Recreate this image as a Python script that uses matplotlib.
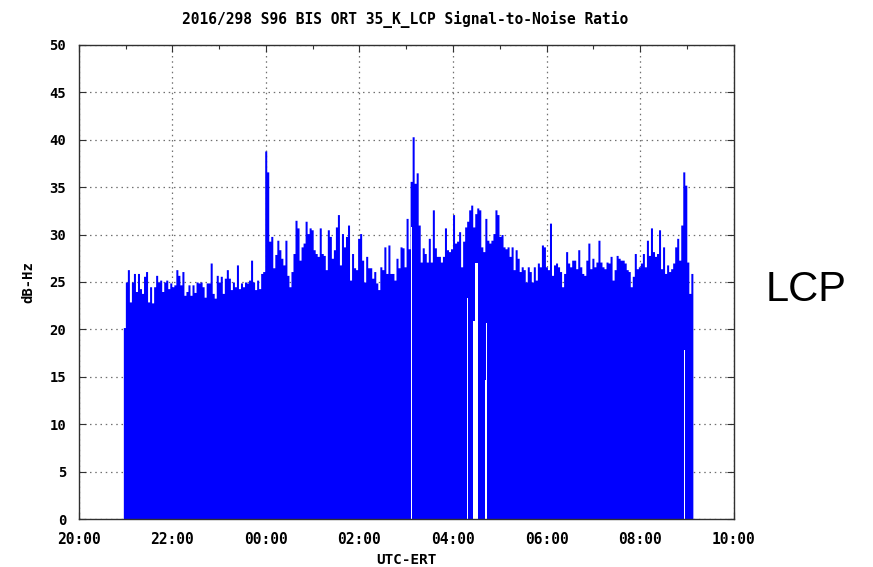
import numpy as np
import matplotlib
matplotlib.use("Agg")
import matplotlib.pyplot as plt
from matplotlib.ticker import MultipleLocator, FixedLocator

# --- data -------------------------------------------------------------
TITLE = "2016/298 S96 BIS ORT 35_K_LCP Signal-to-Noise Ratio"
START_H = 0.953          # hours after 20:00 of the first sample (~20:57)
STEP_MIN = 2.59          # sample spacing in minutes

snr = [
    20.2, 25.0, 26.3, 22.9, 25.0, 25.9, 24.0, 25.9, 24.3, 23.8,
    25.6, 26.1, 22.9, 24.5, 22.8, 24.5, 25.7, 25.0, 25.2, 24.0,
    25.0, 25.2, 24.3, 24.9, 24.5, 24.7, 26.3, 25.7, 24.7, 26.1,
    23.6, 24.0, 24.7, 23.6, 24.7, 23.9, 25.0, 24.9, 25.0, 24.5,
    23.4, 24.9, 24.9, 27.0, 23.8, 23.3, 25.7, 25.0, 25.6, 23.8,
    25.4, 26.3, 25.4, 24.2, 25.0, 24.5, 26.8, 24.3, 24.9, 24.5,
    25.0, 24.9, 25.2, 27.3, 25.0, 24.2, 25.2, 24.3, 25.9, 26.1,
    38.8, 36.6, 29.3, 29.8, 26.5, 27.9, 29.4, 28.4, 27.5, 26.8,
    29.4, 25.7, 24.5, 26.1, 28.0, 31.5, 30.7, 27.3, 28.7, 29.1,
    31.4, 30.1, 30.7, 30.5, 28.4, 28.0, 27.7, 30.7, 28.0, 27.8,
    26.3, 30.5, 29.8, 27.5, 28.4, 30.8, 32.1, 26.8, 30.1, 28.7,
    29.8, 31.0, 25.2, 28.0, 26.5, 26.3, 29.6, 30.1, 27.3, 25.0,
    27.7, 26.5, 26.5, 25.4, 26.1, 24.9, 24.2, 26.6, 26.3, 28.7,
    25.9, 28.9, 25.9, 25.9, 25.2, 27.5, 26.5, 28.7, 28.6, 26.6,
    31.7, 28.5, 35.6, 40.3, 35.4, 36.5, 31.0, 27.1, 28.6, 28.0,
    27.1, 29.6, 27.1, 32.6, 28.6, 27.7, 27.7, 27.1, 27.7, 30.7,
    28.4, 28.2, 28.5, 32.1, 29.1, 29.3, 30.3, 26.6, 29.3, 30.8,
    31.4, 32.6, 33.1, 30.8, 32.2, 32.8, 32.6, 28.7, 28.2, 31.7,
    29.4, 29.1, 29.4, 30.1, 32.6, 32.1, 29.8, 30.0, 28.7, 28.5,
    28.7, 27.7, 28.7, 26.3, 28.4, 27.5, 26.1, 26.6, 26.3, 25.0,
    26.6, 26.1, 25.0, 26.6, 25.2, 27.0, 26.6, 28.9, 28.7, 26.6,
    26.3, 31.2, 25.7, 26.8, 27.0, 26.6, 26.1, 24.5, 25.9, 28.2,
    27.0, 26.6, 27.3, 27.3, 26.4, 28.4, 26.6, 25.9, 25.7, 27.3,
    29.1, 26.4, 27.5, 26.6, 27.1, 29.4, 27.1, 26.6, 26.4, 27.1,
    27.0, 27.7, 25.2, 26.3, 27.8, 27.5, 27.3, 27.3, 27.0, 26.3,
    26.1, 24.5, 25.6, 28.0, 26.4, 26.6, 27.0, 28.0, 26.6, 29.4,
    27.8, 30.7, 28.2, 27.7, 28.0, 30.5, 26.4, 28.7, 25.9, 26.8,
    26.1, 26.4, 27.0, 28.7, 29.6, 27.3, 31.0, 36.6, 35.2, 27.1,
    23.8, 25.9,
]

# dropouts: start/end (hours after 20:00) and level below which no signal
gap_start = [7.106, 8.294, 8.433, 8.474, 8.677, 8.698, 12.930]
gap_end = [7.130, 8.320, 8.474, 8.534, 8.698, 8.720, 12.958]
gap_top = [30.8, 23.3, 20.9, 27.0, 14.7, 20.7, 17.8]

x_ticks = [0, 2, 4, 6, 8, 10, 12, 14]
x_labels = ["20:00", "22:00", "00:00", "02:00", "04:00", "06:00", "08:00", "10:00"]
y_ticks = list(range(0, 51, 5))

# --- plot -------------------------------------------------------------
mono = "DejaVu Sans Mono"
fig = plt.figure(figsize=(8.73, 5.67), dpi=100)
ax = fig.add_axes([0.0902, 0.0841, 0.7503, 0.8371])

t = START_H + np.arange(len(snr) + 1) * STEP_MIN / 60.0
vals = np.append(snr, snr[-1])
ax.fill_between(t, vals, 0, step="post", color="#0000ff", linewidth=0, zorder=2)

gs = np.array(gap_start)
ax.bar(gs, gap_top, width=np.array(gap_end) - gs, align="edge",
       color="white", linewidth=0, zorder=3)

ax.set_xlim(0, 14)
ax.set_ylim(0, 50)
ax.xaxis.set_major_locator(FixedLocator(x_ticks))
ax.xaxis.set_minor_locator(MultipleLocator(1))
ax.set_xticklabels(x_labels)
ax.set_yticks(y_ticks)

ax.grid(True, which="major", color="#707070", linestyle=(0, (1.2, 3)),
        linewidth=0.9, zorder=1)
ax.set_axisbelow(True)

ax.tick_params(which="both", direction="in", top=True, right=True,
               color="#303030", width=0.8)
ax.tick_params(which="major", length=5, pad=9)
ax.tick_params(which="minor", length=3)
for lab in ax.get_xticklabels():
    lab.set_fontfamily(mono)
    lab.set_fontweight("bold")
    lab.set_fontsize(10.5)
for lab in ax.get_yticklabels():
    lab.set_fontfamily(mono)
    lab.set_fontweight("bold")
    lab.set_fontsize(10)
for sp in ax.spines.values():
    sp.set_color("#303030")
    sp.set_linewidth(1.0)
    sp.set_zorder(4)

ax.set_ylabel("dB-Hz", fontfamily=mono, fontweight="bold", fontsize=10, labelpad=10)
fig.text(406 / 873, 1 - 560 / 567, "UTC-ERT", ha="center", va="center",
         fontfamily=mono, fontweight="bold", fontsize=10.3)
fig.text(405 / 873, 1 - 20 / 567, TITLE, ha="center", va="center",
         fontfamily=mono, fontweight="bold", fontsize=10.5)
fig.text(806 / 873, 1 - 290 / 567, "LCP", ha="center", va="center",
         fontfamily="Liberation Sans", fontsize=30)

fig.savefig("out.png", dpi=100)
